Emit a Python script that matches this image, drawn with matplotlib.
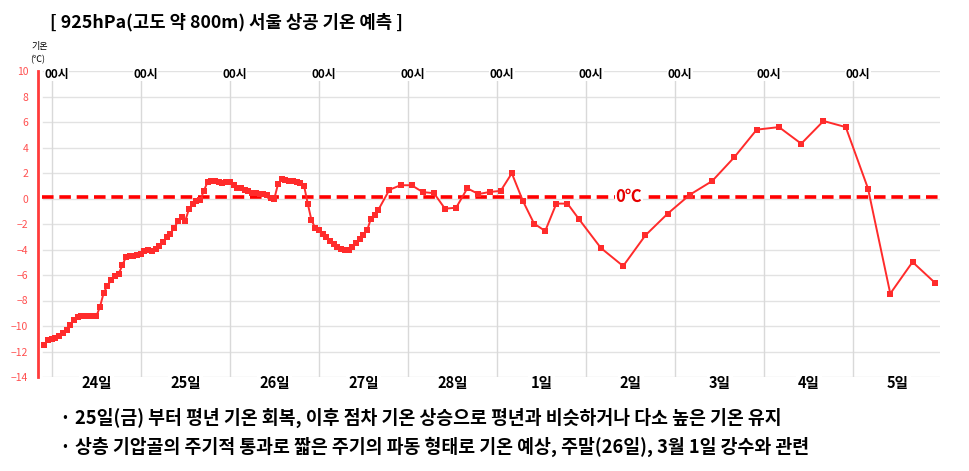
"""925hPa Seoul upper-air temperature forecast chart."""
import matplotlib
matplotlib.use("Agg")
import matplotlib.pyplot as plt
import matplotlib.transforms as mtransforms

plt.rcParams["font.family"] = ["Noto Sans CJK KR", "DejaVu Sans"]

# forecast hours counted from 24일 00시 (hourly, then 3-hourly, then 6-hourly)
hours = list(range(-2, 89)) + list(range(91, 143, 3)) + list(range(148, 239, 6))

temps = [
    # hourly, -2h .. 88h
    -11.5, -11.1, -11.05, -10.95, -10.8, -10.55, -10.3, -9.9, -9.55, -9.3,
    -9.25, -9.25, -9.25, -9.25, -9.25, -8.5, -7.4, -6.85, -6.4, -6.1,
    -5.95, -5.25, -4.6, -4.5, -4.5, -4.45, -4.35, -4.12, -4.05, -4.1,
    -3.95, -3.75, -3.4, -3.0, -2.75, -2.3, -1.8, -1.45, -1.75, -0.8,
    -0.45, -0.2, -0.15, 0.6, 1.3, 1.35, 1.4, 1.3, 1.25, 1.3,
    1.3, 1.05, 0.85, 0.82, 0.7, 0.55, 0.45, 0.4, 0.38, 0.38,
    0.3, 0.05, 0.0, 1.15, 1.5, 1.43, 1.35, 1.35, 1.3, 1.25,
    1.0, -0.4, -1.7, -2.3, -2.5, -2.75, -3.0, -3.3, -3.6, -3.8,
    -3.95, -4.05, -4.0, -3.8, -3.5, -3.15, -2.85, -2.5, -1.6, -1.3,
    -0.9,
    # 3-hourly, 91h .. 142h
    0.68, 1.04, 1.04, 0.5, 0.42, -0.8, -0.72, 0.8, 0.35, 0.51,
    0.6, 1.98, -0.2, -1.97, -2.55, -0.4, -0.4, -1.58,
    # 6-hourly, 148h .. 238h
    -3.88, -5.3, -2.89, -1.19, 0.3, 1.37, 3.25, 5.4, 5.6, 4.3,
    6.08, 5.6, 0.78, -7.46, -4.98, -6.6,
]

day_labels = ["24일", "25일", "26일", "27일", "28일", "1일", "2일", "3일", "4일", "5일"]
midnight_label = "00시"
y_ticks = list(range(-14, 11, 2))

title = "[ 925hPa(고도 약 800m) 서울 상공 기온 예측 ]"
notes = [
    "· 25일(금) 부터 평년 기온 회복, 이후 점차 기온 상승으로 평년과 비슷하거나 다소 높은 기온 유지",
    "· 상층 기압골의 주기적 통과로 짧은 주기의 파동 형태로 기온 예상, 주말(26일), 3월 1일 강수와 관련",
]

LINE_RED = "#ff2b2b"

fig = plt.figure(figsize=(9.7, 4.71), dpi=100)
ax = fig.add_axes([38 / 970, 1 - 377 / 471, 902 / 970, 306 / 471])

ax.set_xlim(-3.7, 239.4)
ax.set_ylim(-14, 10)

# grid: horizontal every 2 degrees, vertical at each 00시
for y in y_ticks:
    ax.axhline(y, xmin=0.005, xmax=1.0, color="#e2e2e2", lw=1.0, zorder=0)
for k in range(len(day_labels)):
    ax.axvline(24 * k, color="#d9d9d9", lw=1.0, zorder=0)

# 0℃ reference line
ax.axhline(0.1, xmin=0.004, xmax=0.998, color="#ff0000", lw=2.6,
           dashes=(3.2, 1.6), zorder=2)

ax.plot(hours, temps, color=LINE_RED, lw=1.4, marker="s", ms=4.8,
        markeredgewidth=0, zorder=3)

ax.text(155.5, 0.1, "0℃", color="#e60000", fontsize=12, fontweight="bold",
        ha="center", va="center", zorder=4,
        bbox=dict(facecolor="white", edgecolor="none", pad=0.5))

# axes styling
for side in ["top", "right", "bottom"]:
    ax.spines[side].set_visible(False)
ax.spines["left"].set_color("#ff3b3b")
ax.spines["left"].set_linewidth(2.0)
ax.set_xticks([])
ax.set_yticks(y_ticks)
ax.tick_params(axis="y", length=0, pad=7, labelsize=7.5, labelcolor="#ff5050")

trans = mtransforms.blended_transform_factory(ax.transData, ax.transAxes)
for k, label in enumerate(day_labels):
    ax.text(24 * k + 1.3, 0.99, midnight_label, transform=trans, fontsize=8.5,
            fontweight="bold", ha="center", va="center",
            bbox=dict(facecolor="white", edgecolor="none", pad=0.3))
    ax.text(24 * k + 12, -0.02, label, transform=trans, fontsize=10.5,
            fontweight="bold", ha="center", va="center", clip_on=False,
            bbox=dict(facecolor="white", edgecolor="none", pad=1.5))

fig.text(40 / 970, 1 - 47 / 471, "기온", fontsize=6.5, ha="center", va="center")
fig.text(38 / 970, 1 - 60 / 471, "(℃)", fontsize=6.5, ha="center", va="center")

fig.text(50 / 970, 1 - 22 / 471, title, fontsize=12.8, fontweight="bold",
         ha="left", va="center")

for i, note in enumerate(notes):
    fig.text(60 / 970, 1 - (418 + 29 * i) / 471, note, fontsize=13.2,
             fontweight="bold", ha="left", va="center")

fig.savefig("out.png", dpi=100)
